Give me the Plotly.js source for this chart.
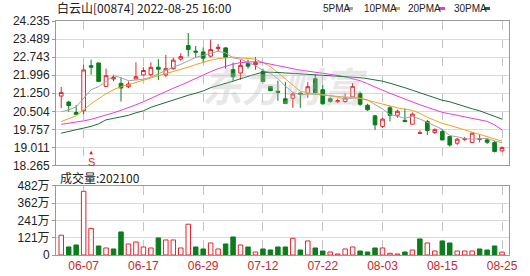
<!DOCTYPE html>
<html>
<head>
<meta charset="utf-8">
<script src="https://cdn.plot.ly/plotly-3.0.1.min.js"></script>
<style>html,body{margin:0;padding:0;background:#fff;}#chart{width:530px;height:276px;}</style>
</head>
<body>
<div id="chart"></div>
<script>
// ---- data ----
var dates = ['06-01','06-02','06-06','06-07','06-08','06-09','06-10','06-13','06-14','06-15','06-16','06-17','06-20','06-21','06-22','06-23','06-24','06-27','06-28','06-29','06-30',
  '07-04','07-05','07-06','07-07','07-08','07-11','07-12','07-13','07-14','07-15','07-18','07-19','07-20','07-21','07-22','07-25','07-26','07-27','07-28','07-29',
  '08-01','08-02','08-03','08-04','08-05','08-08','08-09','08-10','08-11','08-12','08-15','08-16','08-17','08-18','08-19','08-22','08-23','08-24','08-25'];

var openP = [21.134,20.885,20.454,20.525,22.390,22.502,21.532,21.839,21.656,21.520,21.839,22.005,22.017,22.328,22.005,22.266,22.660,23.219,22.991,22.958,22.784,23.095,23.124,22.224,22.088,22.473,22.432,22.154,21.532,21.333,21.022,21.043,21.258,21.258,21.851,21.395,21.022,20.898,20.910,21.097,21.229,20.753,20.317,19.882,20.649,20.338,20.131,19.973,19.592,20.081,19.625,19.666,19.459,19.186,19.343,19.219,19.343,19.322,19.219,18.866];
var highP = [21.507,20.939,20.761,22.432,22.639,22.515,22.266,22.017,21.893,21.739,22.527,22.328,22.527,22.660,22.834,22.722,22.908,23.738,23.199,23.136,23.468,23.282,23.157,22.515,22.639,22.639,22.743,22.266,21.540,21.768,21.714,21.271,21.271,21.706,22.017,21.603,21.084,21.022,21.250,21.673,21.312,20.815,20.359,20.234,20.732,20.566,20.628,20.454,19.716,20.151,19.799,19.778,19.467,19.405,19.447,19.633,19.550,19.385,19.281,19.053];
var lowP = [20.637,20.483,20.367,20.380,22.017,21.727,21.520,21.748,20.910,21.466,21.831,21.976,21.947,21.789,21.922,22.224,22.598,22.763,22.722,22.515,22.722,22.971,22.266,21.768,21.810,22.266,22.224,21.706,21.345,20.939,20.815,20.649,20.649,21.064,21.250,20.773,20.856,20.844,20.856,21.064,20.732,20.525,19.737,19.820,20.089,20.234,20.069,19.965,19.592,19.530,19.571,19.302,19.045,19.115,19.281,19.198,19.219,19.156,18.804,18.846];
var closeP = [21.283,20.744,20.380,22.212,22.328,21.739,21.976,21.901,21.466,21.632,21.934,22.191,22.320,22.245,22.266,22.618,22.763,23.054,22.950,22.701,23.054,23.149,22.734,21.934,22.403,22.369,22.515,21.739,21.354,21.292,20.827,21.217,21.209,21.520,21.271,20.815,20.918,20.939,21.064,21.528,20.794,20.566,19.944,20.181,20.338,20.504,20.077,20.388,19.613,19.716,19.745,19.322,19.115,19.351,19.372,19.600,19.364,19.227,18.846,19.003];

var ma5 = [20.483,20.566,20.690,21.022,21.395,21.520,21.727,21.976,21.893,21.768,21.789,21.831,21.913,22.059,22.183,22.328,22.444,22.589,22.730,22.817,22.904,22.983,22.917,22.714,22.656,22.519,22.390,22.191,22.075,21.855,21.544,21.287,21.180,21.213,21.209,21.205,21.146,21.093,21.001,21.051,21.047,20.977,20.778,20.603,20.363,20.305,20.210,20.297,20.185,20.060,19.907,19.758,19.501,19.451,19.380,19.351,19.360,19.385,19.281,19.206];
var ma10 = [20.081,20.193,20.317,20.566,20.815,21.022,21.229,21.395,21.520,21.603,21.685,21.768,21.880,21.976,22.059,22.141,22.224,22.328,22.432,22.535,22.618,22.680,22.722,22.743,22.709,22.689,22.660,22.515,22.349,22.100,21.851,21.582,21.333,21.271,21.209,21.167,21.146,21.126,21.105,21.084,21.043,20.960,20.877,20.794,20.711,20.649,20.587,20.545,20.421,20.255,20.131,20.006,19.923,19.841,19.737,19.642,19.559,19.455,19.364,19.268];
var ma20 = [19.965,20.006,20.056,20.110,20.172,20.255,20.338,20.442,20.545,20.649,20.773,20.898,21.043,21.188,21.312,21.457,21.582,21.727,21.872,21.996,22.141,22.266,22.369,22.452,22.515,22.544,22.556,22.515,22.452,22.378,22.307,22.253,22.204,22.162,22.121,22.079,22.046,21.988,21.926,21.860,21.768,21.644,21.499,21.375,21.250,21.126,21.001,20.877,20.773,20.670,20.566,20.462,20.400,20.338,20.276,20.214,20.151,20.089,19.944,19.737];
var ma30 = [19.600,19.666,19.729,19.803,19.882,19.986,20.151,20.214,20.276,20.338,20.442,20.525,20.670,20.773,20.877,20.981,21.084,21.167,21.250,21.345,21.478,21.561,21.644,21.748,21.851,21.955,22.038,22.121,22.121,22.108,22.088,22.071,22.059,22.034,22.009,21.988,21.963,21.947,21.934,21.922,21.893,21.851,21.810,21.748,21.665,21.582,21.478,21.375,21.271,21.146,21.043,20.960,20.898,20.794,20.690,20.608,20.525,20.421,20.297,20.181];

var volume = [1380000,560000,700000,4450000,1860000,630000,490000,420000,1610000,770000,
  910000,560000,490000,1190000,1050000,1050000,490000,2150000,560000,420000,
  840000,420000,770000,1260000,700000,560000,210000,420000,350000,560000,
  560000,1170000,350000,980000,490000,280000,210000,70000,420000,560000,
  280000,210000,490000,490000,120000,70000,210000,350000,1120000,840000,
  280000,980000,840000,280000,280000,280000,420000,350000,630000,202100];

var dateTicks = ['06-07','06-17','06-29','07-12','07-22','08-03','08-15','08-25'];
var priceTicks = [18.265,19.011,19.757,20.504,21.250,21.996,22.743,23.489,24.235];
var volTicks = [0,1205000,2410000,3615000,4820000];
var volTickText = ['0','121万','241万','362万','482万'];
var titleText = '白云山[00874] 2022-08-25 16:00';
var volLabel = '成交量:202100';
var maNames = ['5PMA','10PMA','20PMA','30PMA'];

// ---- styles ----
var RED = '#e3222b', GREEN = '#0b7d1c';
var maColors = ['#a3a3a3','#f0a21f','#e23ee0','#1d6b3e'];
var FONT = 'Liberation Sans, Arial, Noto Sans CJK SC, sans-serif';

var volUp = volume.map(function(v,i){ return i===0 ? true : closeP[i] >= closeP[i-1]; });

var traces = [];
traces.push({
  type:'candlestick', x:dates, open:openP, high:highP, low:lowP, close:closeP,
  xaxis:'x', yaxis:'y', whiskerwidth:0,
  increasing:{line:{color:RED,width:1}, fillcolor:'#ffffff'},
  decreasing:{line:{color:GREEN,width:1}, fillcolor:GREEN},
  hoverinfo:'skip', showlegend:false
});
[ma5, ma10, ma20, ma30].forEach(function(arr,k){
  traces.push({type:'scatter', mode:'lines', x:dates, y:arr, xaxis:'x', yaxis:'y',
    line:{color:maColors[k], width:1}, hoverinfo:'skip', showlegend:false, name:maNames[k]});
});
traces.push({
  type:'bar', x:dates, y:volume, xaxis:'x2', yaxis:'y2', width:0.6,
  marker:{color:volUp.map(function(u){return u?'#ffffff':GREEN;}),
          line:{color:volUp.map(function(u){return u?RED:GREEN;}), width:1}},
  hoverinfo:'skip', showlegend:false
});

var xr = [-0.7, 59.93];
var frame = '#9a9a9a';
var annotations = [
  {xref:'paper', yref:'paper', x:-0.002, y:1.056, xanchor:'left', yanchor:'middle', showarrow:false,
   text:titleText, font:{family:'Noto Sans CJK SC, '+FONT, size:12, color:'#222'}},
  {xref:'paper', yref:'paper', x:0.004, y:0.333, xanchor:'left', yanchor:'middle', showarrow:false,
   text:volLabel, font:{family:'Noto Sans CJK SC, '+FONT, size:12, color:'#222'}},
  {xref:'paper', yref:'paper', x:0.505, y:0.725, xanchor:'center', yanchor:'middle', showarrow:false,
   text:'<b><i>东方财富</i></b>', font:{family:'Noto Sans CJK SC', size:40, color:'rgba(190,190,190,0.35)'}},
  {xref:'x', yref:'y', x:'06-08', y:18.87, text:'S', showarrow:true, arrowhead:2, arrowsize:0.7, arrowwidth:1,
   arrowcolor:RED, ax:0, ay:11, font:{family:FONT, size:11, color:RED}}
];
var legendX = [321, 362, 406, 452];
var boxX = [347, 394, 439, 484];
var shapes = [];
maNames.forEach(function(n,k){
  annotations.push({xref:'paper', yref:'paper', x:(legendX[k]-56)/453, y:1.054, xanchor:'left', yanchor:'middle',
    showarrow:false, text:n, font:{family:FONT, size:10, color:'#222'}});
  shapes.push({type:'rect', xref:'paper', yref:'paper', x0:(boxX[k]-56)/453, x1:(boxX[k]+6-56)/453,
    y0:(255-10)/234, y1:(255-7)/234, line:{width:0}, fillcolor:maColors[k]});
});

var layout = {
  width:530, height:276, margin:{l:56, r:21, t:21, b:21},
  paper_bgcolor:'#ffffff', plot_bgcolor:'#ffffff', showlegend:false,
  font:{family:FONT, size:12, color:'#222'},
  xaxis:{type:'category', range:xr, anchor:'y', showticklabels:false, tickmode:'array', tickvals:dateTicks,
    showgrid:true, griddash:'dash', gridcolor:'#c4c4c4', gridwidth:1, showline:true, mirror:true, linecolor:frame,
    ticks:'', zeroline:false, rangeslider:{visible:false}, fixedrange:true},
  yaxis:{domain:[0.3825,1], range:[18.265,24.235], tickmode:'array', tickvals:priceTicks,
    ticktext:priceTicks.map(function(v){return v.toFixed(3);}), showgrid:true, gridcolor:'#d9d9d9',
    showline:true, mirror:true, linecolor:frame, ticks:'outside', ticklen:3, tickcolor:frame,
    zeroline:false, tickfont:{family:FONT, size:12, color:'#222'}, fixedrange:true},
  xaxis2:{type:'category', range:xr, anchor:'y2', tickmode:'array', tickvals:dateTicks, ticktext:dateTicks,
    showgrid:true, griddash:'dash', gridcolor:'#c4c4c4', showline:true, mirror:true, linecolor:frame,
    ticks:'', zeroline:false, tickfont:{family:FONT, size:12, color:'#c8282e'}, fixedrange:true},
  yaxis2:{domain:[0,0.2949], range:[0,4820000], tickmode:'array', tickvals:volTicks, ticktext:volTickText,
    showgrid:true, gridcolor:'#d9d9d9', showline:true, mirror:true, linecolor:frame, ticks:'outside', ticklen:3,
    tickcolor:frame, zeroline:false, tickfont:{family:FONT, size:12, color:'#222'}, fixedrange:true},
  annotations:annotations, shapes:shapes, bargap:0.4, hovermode:false
};

Plotly.newPlot('chart', traces, layout, {displayModeBar:false, staticPlot:true});
</script>
</body>
</html>
